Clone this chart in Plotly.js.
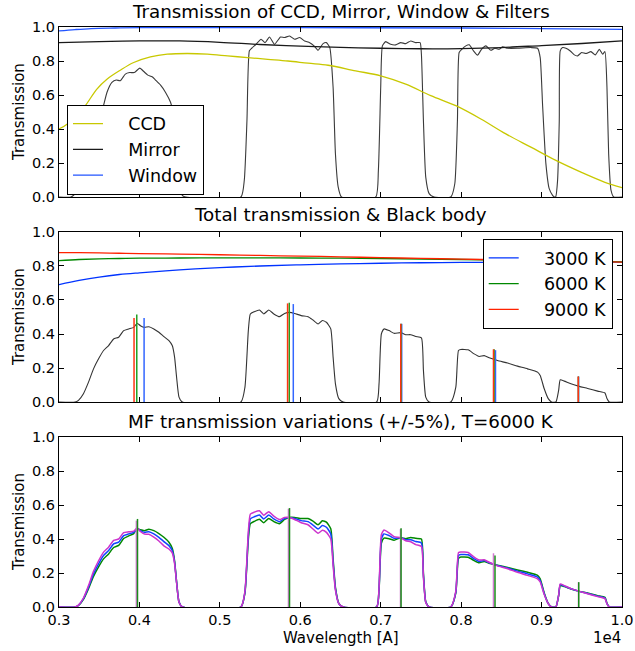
<!DOCTYPE html>
<html>
<head>
<meta charset="utf-8">
<script src="https://cdn.plot.ly/plotly-3.0.1.min.js"></script>
<style>html,body{margin:0;padding:0;background:#fff}</style>
</head>
<body>
<div id="chart" style="width:635px;height:651px"></div>
<script>
// ---------- Data (wavelength in Angstrom) ----------
// Panel 1: CCD, Mirror, Window
var ccdWl   = [3000, 3104, 3304, 3471, 3596, 3762, 3929, 4137, 4346, 4596, 4846, 5096, 5346, 5596, 5846, 6096, 6346, 6689, 7000, 7311, 7622, 7934, 8245, 8556, 8867, 9178, 9490, 9780, 10000];
var ccdT    = [0.400, 0.430, 0.523, 0.635, 0.693, 0.746, 0.791, 0.824, 0.840, 0.844, 0.840, 0.830, 0.820, 0.810, 0.800, 0.787, 0.775, 0.742, 0.713, 0.664, 0.596, 0.537, 0.459, 0.371, 0.293, 0.215, 0.146, 0.088, 0.055];
var mirrorWl = [3000, 3500, 4000, 4500, 5000, 5500, 6000, 6500, 7000, 7500, 8000, 8500, 9000, 9500, 10000];
var mirrorT  = [0.908, 0.914, 0.918, 0.918, 0.910, 0.897, 0.887, 0.880, 0.875, 0.872, 0.873, 0.879, 0.891, 0.903, 0.918];
var windowWl = [3000, 3200, 3400, 3700, 4000, 6000, 8000, 9000, 10000];
var windowT  = [0.977, 0.985, 0.991, 0.994, 0.996, 0.996, 0.994, 0.990, 0.986];

// Panel 1: filter transmissions (5 filters)
var filterWl = [3000, 3150, 3200, 3250, 3300, 3350, 3414, 3480, 3546, 3596, 3658, 3712, 3762, 3825, 3879, 3937, 4004, 4054, 4104, 4158, 4200, 4263, 4325, 4387, 4421, 4445, 4470, 4492, 4533, 4575,
  5262, 5304, 5337, 5367, 5396, 5450, 5512, 5562, 5617, 5679, 5754, 5804, 5867, 5929, 5992, 6054, 6117, 6171, 6221, 6283, 6325, 6367, 6408, 6437, 6471, 6512,
  6938, 6971, 7000, 7021, 7062, 7124, 7187, 7249, 7311, 7373, 7436, 7490, 7506, 7531, 7560, 7602, 7664,
  7871, 7921, 7954, 7975, 8008, 8058, 8100, 8154, 8203, 8253, 8307, 8369, 8419, 8473, 8515, 8577, 8701, 8867, 8950, 8983, 9012, 9054, 9095, 9137, 9160,
  9175, 9199, 9220, 9232, 9261, 9303, 9357, 9407, 9448, 9498, 9552, 9614, 9668, 9718, 9759, 9788, 9813, 9834, 9863, 9896, 10000];
var filterT = [0, 0, 0.02, 0.07, 0.17, 0.25, 0.33, 0.42, 0.523, 0.615, 0.674, 0.688, 0.684, 0.723, 0.732, 0.732, 0.758, 0.738, 0.717, 0.707, 0.688, 0.658, 0.615, 0.557, 0.49, 0.34, 0.17, 0.06, 0.01, 0,
  0, 0.1, 0.45, 0.86, 0.875, 0.898, 0.928, 0.908, 0.941, 0.898, 0.941, 0.938, 0.947, 0.928, 0.938, 0.918, 0.908, 0.889, 0.863, 0.902, 0.908, 0.879, 0.645, 0.254, 0.059, 0,
  0, 0.156, 0.645, 0.889, 0.914, 0.898, 0.895, 0.908, 0.902, 0.918, 0.908, 0.908, 0.84, 0.45, 0.117, 0.02, 0,
  0, 0.078, 0.45, 0.85, 0.869, 0.889, 0.895, 0.859, 0.834, 0.869, 0.889, 0.863, 0.875, 0.869, 0.883, 0.875, 0.875, 0.879, 0.875, 0.82, 0.547, 0.195, 0.049, 0.01, 0,
  0, 0.098, 0.45, 0.86, 0.879, 0.875, 0.859, 0.836, 0.83, 0.85, 0.844, 0.855, 0.836, 0.869, 0.84, 0.855, 0.645, 0.254, 0.04, 0, 0];

// Panel 2: black body curves
var bbWl   = [3000, 3250, 3500, 3750, 4000, 4500, 5000, 5500, 6000, 6500, 7000, 7500, 8000, 8500, 9000, 9500, 10000];
var bb3000 = [0.690, 0.715, 0.735, 0.750, 0.760, 0.777, 0.790, 0.800, 0.807, 0.812, 0.816, 0.819, 0.821, 0.822, 0.823, 0.823, 0.823];
var bb6000 = [0.832, 0.838, 0.842, 0.844, 0.846, 0.847, 0.848, 0.848, 0.847, 0.846, 0.844, 0.841, 0.838, 0.835, 0.831, 0.828, 0.824];
var bb9000 = [0.878, 0.878, 0.877, 0.875, 0.873, 0.870, 0.866, 0.862, 0.858, 0.854, 0.849, 0.845, 0.840, 0.836, 0.831, 0.827, 0.823];

// Panel 2 / 3: total transmission (nominal), and +/-5% variants
var totalWl = [3000, 3200, 3242, 3304, 3367, 3429, 3492, 3554, 3617, 3679, 3742, 3804, 3867, 3929, 3971, 4012, 4062, 4117, 4179, 4242, 4304, 4367, 4408, 4437, 4462, 4492, 4533,
  5262, 5312, 5354, 5379, 5429, 5492, 5546, 5608, 5671, 5742, 5804, 5867, 5929, 6012, 6096, 6158, 6221, 6275, 6325, 6379, 6408, 6437, 6479, 6533,
  6950, 6979, 7008, 7041, 7104, 7166, 7249, 7311, 7373, 7436, 7506, 7531, 7560, 7602,
  7871, 7934, 7967, 7996, 8087, 8162, 8224, 8286, 8349, 8452, 8577, 8701, 8826, 8950, 8983, 9033, 9083, 9124,
  9178, 9212, 9232, 9282, 9365, 9469, 9573, 9697, 9788, 9813, 9842, 10000];
var totalT = [0, 0, 0.01, 0.049, 0.117, 0.195, 0.254, 0.303, 0.332, 0.371, 0.381, 0.42, 0.43, 0.439, 0.463, 0.449, 0.439, 0.443, 0.43, 0.41, 0.385, 0.361, 0.332, 0.264, 0.146, 0.029, 0,
  0, 0.088, 0.42, 0.518, 0.531, 0.541, 0.518, 0.541, 0.518, 0.502, 0.521, 0.527, 0.521, 0.508, 0.502, 0.482, 0.459, 0.479, 0.469, 0.43, 0.264, 0.107, 0.02, 0,
  0, 0.107, 0.4, 0.43, 0.42, 0.404, 0.408, 0.396, 0.396, 0.385, 0.377, 0.186, 0.029, 0,
  0, 0.088, 0.303, 0.309, 0.307, 0.283, 0.268, 0.273, 0.26, 0.244, 0.229, 0.211, 0.195, 0.176, 0.156, 0.078, 0.02, 0,
  0, 0.068, 0.131, 0.123, 0.107, 0.092, 0.08, 0.064, 0.053, 0.02, 0, 0];
var totalPlusT = [0, 0, 0.009, 0.045, 0.108, 0.18, 0.236, 0.283, 0.312, 0.35, 0.362, 0.403, 0.418, 0.432, 0.462, 0.454, 0.449, 0.458, 0.449, 0.432, 0.41, 0.381, 0.345, 0.272, 0.148, 0.029, 0,
  0, 0.083, 0.397, 0.49, 0.504, 0.516, 0.496, 0.521, 0.502, 0.49, 0.515, 0.527, 0.527, 0.52, 0.52, 0.505, 0.484, 0.507, 0.499, 0.46, 0.283, 0.115, 0.021, 0,
  0, 0.1, 0.375, 0.405, 0.402, 0.393, 0.408, 0.402, 0.409, 0.404, 0.4, 0.198, 0.031, 0,
  0, 0.083, 0.286, 0.294, 0.293, 0.273, 0.26, 0.268, 0.257, 0.246, 0.233, 0.218, 0.204, 0.186, 0.165, 0.083, 0.021, 0,
  0, 0.066, 0.126, 0.12, 0.106, 0.092, 0.082, 0.067, 0.057, 0.022, 0, 0];
var totalMinusT = [0, 0, 0.011, 0.053, 0.126, 0.21, 0.272, 0.323, 0.352, 0.392, 0.4, 0.437, 0.442, 0.446, 0.464, 0.444, 0.429, 0.428, 0.411, 0.388, 0.36, 0.341, 0.318, 0.255, 0.142, 0.028, 0,
  0, 0.093, 0.443, 0.546, 0.558, 0.566, 0.54, 0.561, 0.534, 0.514, 0.527, 0.527, 0.515, 0.496, 0.484, 0.459, 0.434, 0.451, 0.439, 0.4, 0.245, 0.099, 0.019, 0,
  0, 0.114, 0.425, 0.453, 0.436, 0.414, 0.408, 0.39, 0.384, 0.367, 0.356, 0.175, 0.027, 0,
  0, 0.093, 0.32, 0.324, 0.321, 0.293, 0.276, 0.278, 0.263, 0.242, 0.225, 0.204, 0.186, 0.166, 0.147, 0.073, 0.019, 0,
  0, 0.07, 0.136, 0.126, 0.108, 0.092, 0.078, 0.061, 0.049, 0.018, 0, 0];

// Panel 2: effective wavelength markers per temperature
var effWl3000 = [4058, 5913, 7261, 8427, 9460];
var effH3000  = [0.494, 0.576, 0.460, 0.305, 0.150];
var effWl6000 = [3967, 5863, 7252, 8410, 9458];
var effH6000  = [0.514, 0.584, 0.460, 0.310, 0.150];
var effWl9000 = [3933, 5842, 7249, 8402, 9456];
var effH9000  = [0.494, 0.580, 0.460, 0.310, 0.150];

// Panel 3: effective wavelength markers per variation
var effWlPlus  = [3976, 5866, 7253, 8421, 9462];
var effHPlus   = [0.518, 0.582, 0.463, 0.303, 0.146];
var effWlMinus = [3962, 5853, 7246, 8402, 9459];
var effHMinus  = [0.508, 0.578, 0.458, 0.316, 0.146];

var xTickVals = [3000, 4000, 5000, 6000, 7000, 8000, 9000, 10000];
var xTickText = ['0.3', '0.4', '0.5', '0.6', '0.7', '0.8', '0.9', '1.0'];
var yTickVals = [0, 0.2, 0.4, 0.6, 0.8, 1.0];
var yTickText = ['0.0', '0.2', '0.4', '0.6', '0.8', '1.0'];

var titles = ['Transmission of CCD, Mirror, Window & Filters', 'Total transmission & Black body', 'MF transmission variations (+/-5%), T=6000 K'];
var legendNames1 = ['CCD', 'Mirror', 'Window'];
var legendNames2 = ['3000 K', '6000 K', '9000 K'];

// ---------- Build ----------
var FONT = 'DejaVu Sans, Liberation Sans, sans-serif';
var PAD = '\u00a0\u00a0\u00a0\u2009'; // gap between legend line sample and label
function stems(xs, hs) {
  var x = [], y = [];
  for (var i = 0; i < xs.length; i++) { x.push(xs[i], xs[i], null); y.push(0, hs[i], null); }
  return {x: x, y: y};
}
function stemTrace(xs, hs, color, xa, ya) {
  var s = stems(xs, hs);
  return {x: s.x, y: s.y, xaxis: xa, yaxis: ya, mode: 'lines', line: {color: color, width: 1.5}, showlegend: false, hoverinfo: 'skip'};
}
var LW = 1.3;
var traces = [
  {x: filterWl, y: filterT, xaxis: 'x', yaxis: 'y', mode: 'lines', line: {color: '#3a3a3a', width: 1.1, shape: 'spline', smoothing: 0.5}, showlegend: false},
  {x: ccdWl, y: ccdT, xaxis: 'x', yaxis: 'y', mode: 'lines', name: PAD + legendNames1[0], line: {color: '#c8c800', width: LW, shape: 'spline'}, legend: 'legend'},
  {x: mirrorWl, y: mirrorT, xaxis: 'x', yaxis: 'y', mode: 'lines', name: PAD + legendNames1[1], line: {color: '#1a1a1a', width: LW, shape: 'spline'}, legend: 'legend'},
  {x: windowWl, y: windowT, xaxis: 'x', yaxis: 'y', mode: 'lines', name: PAD + legendNames1[2], line: {color: '#2255ff', width: LW, shape: 'spline'}, legend: 'legend'},

  {x: bbWl, y: bb3000, xaxis: 'x2', yaxis: 'y2', mode: 'lines', name: PAD + legendNames2[0], line: {color: '#0033ff', width: LW, shape: 'spline'}, legend: 'legend2'},
  {x: bbWl, y: bb6000, xaxis: 'x2', yaxis: 'y2', mode: 'lines', name: PAD + legendNames2[1], line: {color: '#008800', width: LW, shape: 'spline'}, legend: 'legend2'},
  {x: bbWl, y: bb9000, xaxis: 'x2', yaxis: 'y2', mode: 'lines', name: PAD + legendNames2[2], line: {color: '#ff2200', width: LW, shape: 'spline'}, legend: 'legend2'},
  {x: totalWl, y: totalT, xaxis: 'x2', yaxis: 'y2', mode: 'lines', line: {color: '#333333', width: 1.1, shape: 'spline', smoothing: 0.5}, showlegend: false},
  stemTrace(effWl3000, effH3000, '#3366ff', 'x2', 'y2'),
  stemTrace(effWl6000, effH6000, '#22a022', 'x2', 'y2'),
  stemTrace(effWl9000, effH9000, '#ff3311', 'x2', 'y2'),

  {x: totalWl, y: totalPlusT, xaxis: 'x3', yaxis: 'y3', mode: 'lines', line: {color: '#008800', width: 1.5, shape: 'spline', smoothing: 0.5}, showlegend: false},
  {x: totalWl, y: totalT, xaxis: 'x3', yaxis: 'y3', mode: 'lines', line: {color: '#1144ff', width: 1.5, shape: 'spline', smoothing: 0.5}, showlegend: false},
  {x: totalWl, y: totalMinusT, xaxis: 'x3', yaxis: 'y3', mode: 'lines', line: {color: '#cc33cc', width: 1.5, shape: 'spline', smoothing: 0.5}, showlegend: false},
  stemTrace(effWlMinus, effHMinus, '#d27ad2', 'x3', 'y3'),
  stemTrace(effWlPlus, effHPlus, '#1a8c1a', 'x3', 'y3')
];

function xax(showLabels) {
  return {range: [3000, 10000], tickvals: xTickVals, ticktext: xTickText, showticklabels: showLabels,
    ticks: 'inside', ticklen: 5, tickwidth: 1, tickcolor: '#000', showline: true, linecolor: '#000', linewidth: 1,
    mirror: 'ticks', showgrid: false, zeroline: false, tickfont: {family: FONT, size: 14.5, color: '#000'}, fixedrange: true};
}
function yax(domain) {
  return {range: [0, 1], domain: domain, tickvals: yTickVals, ticktext: yTickText,
    ticks: 'inside', ticklen: 5, tickwidth: 1, tickcolor: '#000', showline: true, linecolor: '#000', linewidth: 1,
    mirror: 'ticks', showgrid: false, zeroline: false, tickfont: {family: FONT, size: 14.5, color: '#000'}, fixedrange: true};
}
var d1 = [0.7069, 1], d2 = [0.3534, 0.6466], d3 = [0, 0.2931];
var x1 = xax(false); x1.anchor = 'y';
var x2 = xax(false); x2.anchor = 'y2';
var x3 = xax(true);  x3.anchor = 'y3';
var y1 = yax(d1); y1.anchor = 'x';
var y2 = yax(d2); y2.anchor = 'x2';
var y3 = yax(d3); y3.anchor = 'x3';

var ann = [];
var titleY = [1.0259, 0.6759, 0.3195];
var ytY = [0.8534, 0.5, 0.1466];
for (var i = 0; i < 3; i++) {
  ann.push({text: titles[i], xref: 'paper', yref: 'paper', x: 0.5, y: titleY[i], xanchor: 'center', yanchor: 'middle', showarrow: false, font: {family: FONT, size: 18.3, color: '#000'}});
  ann.push({text: 'Transmission', xref: 'paper', yref: 'paper', x: -0.071, y: ytY[i], xanchor: 'center', yanchor: 'middle', textangle: -90, showarrow: false, font: {family: FONT, size: 15, color: '#000'}});
}
ann.push({text: 'Wavelength [A]', xref: 'paper', yref: 'paper', x: 0.5, y: -0.0345, xanchor: 'center', yanchor: 'top', showarrow: false, font: {family: FONT, size: 15, color: '#000'}});
ann.push({text: '1e4', xref: 'paper', yref: 'paper', x: 1.002, y: -0.0345, xanchor: 'right', yanchor: 'top', showarrow: false, font: {family: FONT, size: 15, color: '#000'}});

var legendCommon = {bgcolor: '#fff', bordercolor: '#000', borderwidth: 1, font: {family: FONT, size: 17.5, color: '#000'}, itemwidth: 30, traceorder: 'normal'};
var layout = {
  width: 635, height: 651,
  margin: {l: 59, r: 13, t: 27, b: 44, pad: 0},
  paper_bgcolor: '#fff', plot_bgcolor: '#fff',
  xaxis: x1, yaxis: y1, xaxis2: x2, yaxis2: y2, xaxis3: x3, yaxis3: y3,
  annotations: ann,
  legend: Object.assign({x: 0.0142, y: 0.866, xanchor: 'left', yanchor: 'top'}, legendCommon),
  legend2: Object.assign({x: 0.9835, y: 0.6345, xanchor: 'right', yanchor: 'top'}, legendCommon),
  showlegend: true
};
Plotly.newPlot('chart', traces, layout, {displayModeBar: false, staticPlot: true});
</script>
</body>
</html>
